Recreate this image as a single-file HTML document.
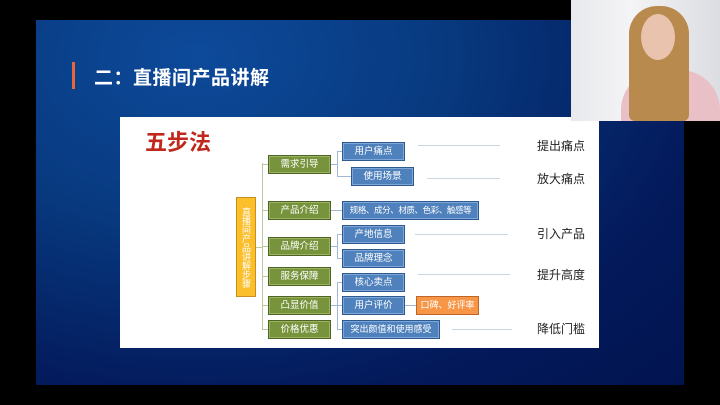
<!DOCTYPE html>
<html><head><meta charset="utf-8"><style>
body{margin:0;width:720px;height:405px;background:#000;position:relative;overflow:hidden;font-family:"Liberation Sans","Noto Sans CJK SC",sans-serif}
.slide{position:absolute;left:36px;top:20px;width:648px;height:365px;background:radial-gradient(ellipse at 25% 10%,#0d4a9a 0%,#083a80 35%,#03195a 75%,#021450 100%)}
.bar{position:absolute;left:72px;top:62px;width:3px;height:27px;background:#e8663a}
.title{position:absolute;left:94px;top:63px;color:#fff;font-size:19px;font-weight:bold;letter-spacing:0.5px}
.panel{position:absolute;left:120px;top:117px;width:479px;height:231px;background:#fff}
.b{position:absolute;box-sizing:border-box;color:#fff;font-size:9.5px;text-align:center;line-height:17px;height:19px;white-space:nowrap;overflow:hidden}
.g{background:#77933c;border:1px solid #4f6228;box-shadow:inset 0 0 0 1px #9bb35f}
.bl{background:#4f81bd;border:1px solid #2c5a8f;box-shadow:inset 0 0 0 1px #7ea6d8}
.o{background:#f79646;border:1px solid #c0652a}
.l{position:absolute;background:#b9c9a0}
.lb{position:absolute;background:#9fb7d4}
.r{position:absolute;height:1px;background:#c8d6e2}
.t{position:absolute;left:537px;font-size:12px;color:#222;line-height:14px}
.cam{position:absolute;left:571px;top:0;width:149px;height:121px;background:linear-gradient(90deg,#e8e9ec,#f4f4f6 40%,#dcdde2)}
</style></head><body>
<div class="slide"></div>
<div class="bar"></div>
<div class="title">二：直播间产品讲解</div>
<div class="panel"></div>
<div style="position:absolute;left:145px;top:125px;color:#c0281c;font-size:22px;font-weight:bold">五步法</div>
<div style="position:absolute;left:236px;top:197px;width:20px;height:100px;box-sizing:border-box;background:#fbbf2c;border:1px solid #c8901a;color:#fff;font-size:9px;writing-mode:vertical-rl;text-align:center;line-height:18px">直播间产品讲解步骤</div>
<div class="l" style="left:262px;top:163px;width:1px;height:167px"></div>
<div class="l" style="left:256px;top:247px;width:6px;height:1px"></div>
<div class="l" style="left:262px;top:164px;width:6px;height:1px"></div>
<div class="l" style="left:262px;top:210px;width:6px;height:1px"></div>
<div class="l" style="left:262px;top:246px;width:6px;height:1px"></div>
<div class="l" style="left:262px;top:276px;width:6px;height:1px"></div>
<div class="l" style="left:262px;top:305px;width:6px;height:1px"></div>
<div class="l" style="left:262px;top:329px;width:6px;height:1px"></div>
<div class="lb" style="left:331px;top:164px;width:6px;height:1px"></div>
<div class="lb" style="left:337px;top:151px;width:1px;height:26px"></div>
<div class="lb" style="left:337px;top:151px;width:5px;height:1px"></div>
<div class="lb" style="left:337px;top:176px;width:14px;height:1px"></div>
<div class="lb" style="left:331px;top:210px;width:11px;height:1px"></div>
<div class="lb" style="left:331px;top:246px;width:6px;height:1px"></div>
<div class="lb" style="left:337px;top:234px;width:1px;height:25px"></div>
<div class="lb" style="left:337px;top:234px;width:5px;height:1px"></div>
<div class="lb" style="left:337px;top:258px;width:5px;height:1px"></div>
<div class="lb" style="left:331px;top:305px;width:11px;height:1px"></div>
<div class="lb" style="left:337px;top:282px;width:1px;height:48px"></div>
<div class="lb" style="left:337px;top:282px;width:5px;height:1px"></div>
<div class="lb" style="left:337px;top:329px;width:5px;height:1px"></div>
<div class="lb" style="left:405px;top:305px;width:11px;height:1px"></div>
<div class="b g" style="left:268px;top:155px;width:63px">需求引导</div>
<div class="b g" style="left:268px;top:201px;width:63px">产品介绍</div>
<div class="b g" style="left:268px;top:237px;width:63px">品牌介绍</div>
<div class="b g" style="left:268px;top:267px;width:63px">服务保障</div>
<div class="b g" style="left:268px;top:296px;width:63px">凸显价值</div>
<div class="b g" style="left:268px;top:320px;width:63px">价格优惠</div>
<div class="b bl" style="left:342px;top:142px;width:63px">用户痛点</div>
<div class="b bl" style="left:351px;top:167px;width:63px">使用场景</div>
<div class="b bl" style="left:342px;top:201px;width:137px;font-size:8.5px;letter-spacing:-0.4px">规格、成分、材质、色彩、触感等</div>
<div class="b bl" style="left:342px;top:225px;width:63px">产地信息</div>
<div class="b bl" style="left:342px;top:249px;width:63px">品牌理念</div>
<div class="b bl" style="left:342px;top:273px;width:63px">核心卖点</div>
<div class="b bl" style="left:342px;top:296px;width:63px">用户评价</div>
<div class="b o" style="left:416px;top:296px;width:63px;font-size:9px">口碑、好评率</div>
<div class="b bl" style="left:342px;top:320px;width:98px;font-size:9px">突出颜值和使用感受</div>
<div class="r" style="left:418px;top:145px;width:82px"></div>
<div class="r" style="left:427px;top:178px;width:73px"></div>
<div class="r" style="left:415px;top:234px;width:93px"></div>
<div class="r" style="left:418px;top:274px;width:92px"></div>
<div class="r" style="left:452px;top:329px;width:60px"></div>
<div class="t" style="top:139px">提出痛点</div>
<div class="t" style="top:172px">放大痛点</div>
<div class="t" style="top:227px">引入产品</div>
<div class="t" style="top:268px">提升高度</div>
<div class="t" style="top:322px">降低门槛</div>
<div class="cam">
<div style="position:absolute;left:50px;top:70px;width:99px;height:51px;background:#e8c0c6;border-radius:40px 40px 0 0"></div>
<div style="position:absolute;left:58px;top:6px;width:60px;height:115px;background:#b88a4e;border-radius:28px 28px 6px 6px"></div>
<div style="position:absolute;left:70px;top:14px;width:34px;height:46px;background:#e9c3ae;border-radius:50%"></div>
</div>
</body></html>
